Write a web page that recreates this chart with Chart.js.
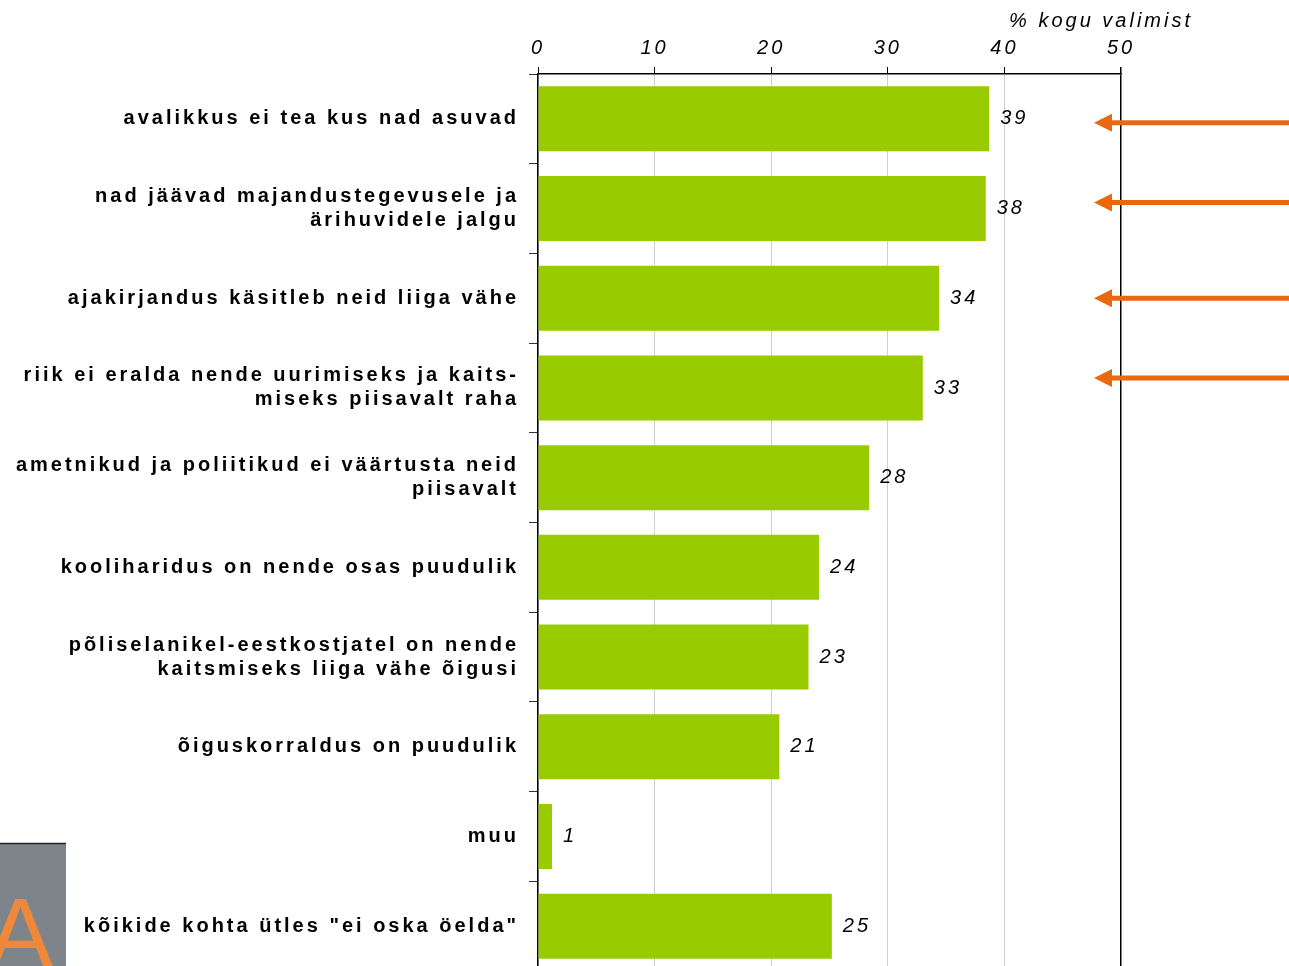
<!DOCTYPE html>
<html>
<head>
<meta charset="utf-8">
<script src="https://cdn.jsdelivr.net/npm/chart.js@4"></script>
<style>
  html, body { margin: 0; padding: 0; background: #fff; overflow: hidden; }
  #wrap { position: relative; width: 1289px; height: 971px; }
</style>
</head>
<body>
<div id="wrap"><canvas id="reasonsChart"></canvas></div>
<script>
// ===== DATA =====
const categories = [
  "avalikkus ei tea kus nad asuvad",
  ["nad jäävad majandustegevusele ja", "ärihuvidele jalgu"],
  "ajakirjandus käsitleb neid liiga vähe",
  ["riik ei eralda nende uurimiseks ja kaits-", "miseks piisavalt raha"],
  ["ametnikud ja poliitikud ei väärtusta neid", "piisavalt"],
  "kooliharidus on nende osas puudulik",
  ["põliselanikel-eestkostjatel on nende", "kaitsmiseks liiga vähe õigusi"],
  "õiguskorraldus on puudulik",
  "muu",
  "kõikide kohta ütles \"ei oska öelda\""
];
const shares = [38.7, 38.4, 34.4, 33.0, 28.4, 24.1, 23.2, 20.7, 1.2, 25.2];
const shareLabels = ["39", "38", "34", "33", "28", "24", "23", "21", "1", "25"];
const xTicks = [0, 10, 20, 30, 40, 50];
const axisTitle = "% kogu valimist";
const highlighted = [0, 1, 2, 3];        // rows marked with arrows
const arrowNudge = [4, -6, 0, -10];      // small vertical nudges of the arrows (px)

const GREEN = "#99cc00";
const ORANGE = "#e8690f";
const FONT = "'Liberation Sans', Arial, sans-serif";
const SPACING = "3px";

// ===== HELPER PLUGIN: letter spacing, value labels, arrows, logo =====
const decorations = {
  id: "decorations",
  beforeUpdate(chart) { chart.ctx.letterSpacing = SPACING; },
  beforeLayout(chart) { chart.ctx.letterSpacing = SPACING; },
  beforeDraw(chart) { chart.ctx.letterSpacing = SPACING; },
  afterDraw(chart) {
    const ctx = chart.ctx;
    const area = chart.chartArea;
    const meta = chart.getDatasetMeta(0);
    ctx.save();
    ctx.letterSpacing = SPACING;

    // value labels
    ctx.font = "italic 20px " + FONT;
    ctx.fillStyle = "#000";
    ctx.textAlign = "left";
    ctx.textBaseline = "middle";
    meta.data.forEach((bar, i) => {
      ctx.fillText(shareLabels[i], bar.x + 11, bar.y);
    });

    // axis title
    ctx.textAlign = "right";
    ctx.textBaseline = "alphabetic";
    ctx.fillText(axisTitle, area.right + 72, 27);

    // arrows
    ctx.fillStyle = ORANGE;
    ctx.strokeStyle = ORANGE;
    ctx.lineWidth = 5;
    highlighted.forEach((row, k) => {
      const y = meta.data[row].y + arrowNudge[k];
      const tip = area.right - 27;
      ctx.beginPath();
      ctx.moveTo(tip + 16, y);
      ctx.lineTo(chart.width, y);
      ctx.stroke();
      ctx.beginPath();
      ctx.moveTo(tip, y);
      ctx.lineTo(tip + 18, y - 9);
      ctx.lineTo(tip + 18, y + 9);
      ctx.closePath();
      ctx.fill();
    });

    // logo box bottom-left
    ctx.fillStyle = "#7d858b";
    ctx.fillRect(0, 843, 66, chart.height - 843);
    ctx.strokeStyle = "#222";
    ctx.lineWidth = 1.5;
    ctx.beginPath();
    ctx.moveTo(0, 843.5);
    ctx.lineTo(66, 843.5);
    ctx.stroke();
    ctx.save();
    ctx.beginPath();
    ctx.rect(0, 844, 66, chart.height - 844);
    ctx.clip();
    ctx.letterSpacing = "0px";
    ctx.fillStyle = "#f0883a";
    ctx.font = "100px " + FONT;
    ctx.textAlign = "left";
    ctx.textBaseline = "alphabetic";
    ctx.fillText("A", -13, 968);
    ctx.restore();

    ctx.restore();
  }
};

// ===== CHART =====
window.addEventListener("load", () => {
  const ctx = document.getElementById("reasonsChart").getContext("2d");
  new Chart(ctx, {
    type: "bar",
    data: {
      labels: categories,
      datasets: [
        {
          data: shares,
          backgroundColor: GREEN,
          borderWidth: 0,
          barPercentage: 0.725,
          categoryPercentage: 1.0,
        },
      ],
    },
    options: {
      indexAxis: "y",
      responsive: true,
      maintainAspectRatio: false,
      animation: false,
      layout: { padding: { top: 0, right: 168, bottom: 0, left: 0 } },
      plugins: {
        legend: { display: false },
        tooltip: { enabled: false },
      },
      scales: {
        x: {
          position: "top",
          min: 0,
          max: 50,
          afterBuildTicks: (scale) => {
            scale.ticks = xTicks.map(v => ({ value: v }));
          },
          afterFit: (scale) => {
            scale.height = 74;
            scale.paddingLeft = 0;
            scale.paddingRight = 0;
          },
          ticks: {
            color: "#000",
            padding: 7,
            font: { family: FONT, size: 20, style: "italic" },
          },
          grid: {
            color: (c) => (c.tick && c.tick.value === 50 ? "#000" : "#cfcfcf"),
            lineWidth: (c) => (c.tick && c.tick.value === 50 ? 1.5 : 1),
            tickColor: "#000",
            tickLength: 7,
          },
          border: { color: "#000", width: 1.5 },
        },
        y: {
          afterFit: (scale) => {
            scale.width = 538;
            scale.paddingTop = 0;
            scale.paddingBottom = 0;
          },
          ticks: {
            color: "#000",
            padding: 10,
            font: { family: FONT, size: 20, weight: "bold", lineHeight: 1.2 },
          },
          grid: {
            drawOnChartArea: false,
            tickColor: "#333",
            tickLength: 9,
          },
          border: { color: "#000", width: 1.5 },
        },
      },
    },
    plugins: [decorations],
  });
});
</script>
</body>
</html>
